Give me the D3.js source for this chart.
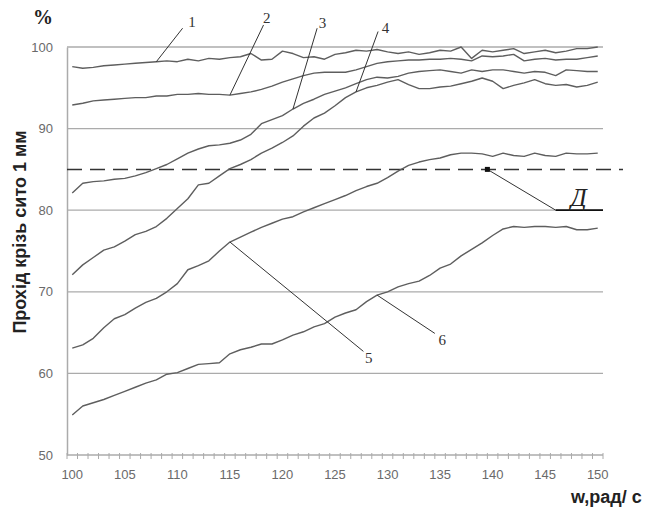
<!DOCTYPE html>
<html>
<head>
<meta charset="utf-8">
<script src="https://cdn.jsdelivr.net/npm/d3@7/dist/d3.min.js"></script>
<style>
  html, body { margin: 0; padding: 0; background: #fff; }
  svg { display: block; }
</style>
</head>
<body>
<svg id="chart" width="649" height="510"></svg>
<script>
// ---- data ----
const categories = d3.range(100, 151); // w, рад/с : 100 ... 150
const xTickLabels = [100, 105, 110, 115, 120, 125, 130, 135, 140, 145, 150];
const yTickLabels = [50, 60, 70, 80, 90, 100];
const thresholdValue = 85;

const series1 = [97.6,97.4,97.5,97.7,97.8,97.9,98.0,98.1,98.2,98.3,98.2,98.5,98.3,98.6,98.5,98.7,98.8,99.2,98.4,98.5,
  99.5,99.2,98.7,98.8,98.5,99.1,99.3,99.6,99.5,99.7,99.4,99.2,99.4,99.1,99.3,99.6,99.5,100.0,98.6,99.6,
  99.4,99.6,99.8,99.2,99.4,99.6,99.3,99.5,99.8,99.8,100.0];
const series2 = [92.9,93.1,93.4,93.5,93.6,93.7,93.8,93.8,94.0,94.0,94.2,94.2,94.3,94.2,94.2,94.1,94.3,94.5,94.8,95.2,
  95.7,96.1,96.5,96.8,96.9,96.9,96.9,97.2,97.6,98.0,98.2,98.3,98.4,98.4,98.5,98.5,98.6,98.5,98.3,98.9,
  98.8,98.9,99.1,98.3,98.5,98.6,98.4,98.5,98.5,98.7,98.9];
const series3 = [82.1,83.3,83.5,83.6,83.8,83.9,84.2,84.6,85.1,85.6,86.3,87.0,87.5,87.9,88.0,88.2,88.6,89.3,90.6,91.1,
  91.6,92.4,93.1,93.6,94.2,94.6,95.0,95.5,96.0,96.3,96.2,96.4,96.8,97.0,97.1,97.2,97.0,96.8,97.2,97.0,
  97.2,97.2,97.0,96.8,97.0,96.9,96.5,97.2,97.1,97.0,97.0];
const series4 = [72.1,73.3,74.2,75.1,75.5,76.2,77.0,77.4,78.0,79.0,80.2,81.4,83.1,83.3,84.2,85.1,85.6,86.2,87.0,87.6,
  88.3,89.1,90.3,91.3,91.9,92.8,93.8,94.5,95.0,95.3,95.7,96.0,95.4,94.9,94.9,95.1,95.2,95.5,95.8,96.2,
  95.8,94.9,95.3,95.6,96.0,95.5,95.3,95.4,95.1,95.3,95.7];
const series5 = [63.1,63.5,64.3,65.6,66.7,67.2,68.0,68.7,69.2,70.0,71.0,72.7,73.2,73.8,75.0,76.1,76.7,77.3,77.9,78.4,
  78.9,79.2,79.8,80.3,80.8,81.3,81.8,82.4,82.9,83.3,84.0,84.8,85.5,85.9,86.2,86.4,86.8,87.0,87.0,86.9,
  86.6,87.0,86.7,86.6,87.0,86.7,86.6,87.0,86.9,86.9,87.0];
const series6 = [54.9,56.0,56.4,56.8,57.3,57.8,58.3,58.8,59.2,59.9,60.1,60.6,61.1,61.2,61.3,62.4,62.9,63.2,63.6,63.6,
  64.1,64.7,65.1,65.7,66.1,66.9,67.4,67.8,68.8,69.6,70.0,70.6,71.0,71.3,72.0,72.9,73.4,74.4,75.2,76.0,
  76.9,77.7,78.0,77.9,78.0,78.0,77.9,78.0,77.6,77.6,77.8];
const seriesNames = ["1", "2", "3", "4", "5", "6"];
const allSeries = [series1, series2, series3, series4, series5, series6];

// leader-line annotations (in data units): label position, leader start, point on curve (category)
const curveLabels = [
  { name: "1", tx: 111.4, ty: 103.1, lx: 110.5, ly: 102.3, cat: 108 },
  { name: "2", tx: 118.5, ty: 103.5, lx: 118.2, ly: 102.7, cat: 115 },
  { name: "3", tx: 123.8, ty: 102.9, lx: 123.3, ly: 102.3, cat: 121 },
  { name: "4", tx: 129.8, ty: 102.3, lx: 129.1, ly: 101.9, cat: 127 },
  { name: "5", tx: 128.2, ty: 61.9,  lx: 127.7, ly: 62.7,  cat: 115 },
  { name: "6", tx: 135.2, ty: 64.1,  lx: 134.5, ly: 64.9,  cat: 129 }
];
const markerPoint = { x: 139.5, y: 85 };
const markerBend = { x: 146, y: 80 };
const markerEnd = { x: 150.5, y: 80 };
const markerText = { text: "Д", x: 148.2, y: 81.5 };

// ---- layout ----
const svg = d3.select("#chart");
const x = d3.scaleLinear().domain([99.5, 150.5]).range([67, 603]);
const y = d3.scaleLinear().domain([50, 100]).range([455, 47]);
const gridColor = "#ababab";
const lineColor = "#5e5e5e";

// grid lines
svg.append("g").selectAll("line").data(yTickLabels.filter(v => v > 50)).join("line")
  .attr("x1", x.range()[0]).attr("x2", x.range()[1])
  .attr("y1", d => y(d)).attr("y2", d => y(d))
  .attr("stroke", gridColor).attr("stroke-width", 1.3);

// y axis
const yAxis = svg.append("g").attr("transform", `translate(${x.range()[0]},0)`)
  .call(d3.axisLeft(y).tickValues(yTickLabels).tickSize(0).tickPadding(14));
yAxis.select(".domain").attr("stroke", gridColor).attr("stroke-width", 1.5);
yAxis.selectAll("text").attr("font-family", "Liberation Sans, Arial, sans-serif")
  .attr("font-size", 13).attr("fill", "#6a6a6a");

// x axis: minor ticks at category boundaries, labels at categories
const xAxisG = svg.append("g").attr("transform", `translate(0,${y(50)})`);
xAxisG.append("line").attr("x1", x.range()[0]).attr("x2", x.range()[1])
  .attr("stroke", gridColor).attr("stroke-width", 1.5);
xAxisG.selectAll("line.tick").data(d3.range(0, categories.length + 1).map(i => 99.5 + i)).join("line")
  .attr("class", "tick")
  .attr("x1", d => x(d)).attr("x2", d => x(d))
  .attr("y1", -2).attr("y2", 4)
  .attr("stroke", "#aaa").attr("stroke-width", 1);
xAxisG.selectAll("text").data(xTickLabels).join("text")
  .attr("x", d => x(d)).attr("y", 24)
  .attr("text-anchor", "middle")
  .attr("font-family", "Liberation Sans, Arial, sans-serif")
  .attr("font-size", 13).attr("fill", "#6a6a6a")
  .text(d => d);

// threshold dashed line
svg.append("line")
  .attr("x1", x.range()[0]).attr("x2", 623)
  .attr("y1", y(thresholdValue)).attr("y2", y(thresholdValue))
  .attr("stroke", "#333").attr("stroke-width", 1.5)
  .attr("stroke-dasharray", "15,8");

// curves
const line = d3.line().x((d, i) => x(categories[i])).y(d => y(d));
svg.append("g").selectAll("path").data(allSeries).join("path")
  .attr("d", d => line(d))
  .attr("fill", "none").attr("stroke", lineColor).attr("stroke-width", 1.4)
  .attr("stroke-linejoin", "round");

// curve labels with leaders
const lab = svg.append("g");
curveLabels.forEach((c) => {
  const s = allSeries[seriesNames.indexOf(c.name)];
  const v = s[categories.indexOf(c.cat)];
  lab.append("line")
    .attr("x1", x(c.lx)).attr("y1", y(c.ly))
    .attr("x2", x(c.cat)).attr("y2", y(v))
    .attr("stroke", "#333").attr("stroke-width", 1);
  lab.append("text")
    .attr("x", x(c.tx)).attr("y", y(c.ty))
    .attr("text-anchor", "middle").attr("dominant-baseline", "central")
    .attr("font-family", "Liberation Serif, Times New Roman, serif")
    .attr("font-size", 15).attr("fill", "#333")
    .text(c.name);
});

// marker "Д"
svg.append("polyline")
  .attr("points", [markerPoint, markerBend].map(p => [x(p.x), y(p.y)].join(",")).join(" "))
  .attr("fill", "none").attr("stroke", "#333").attr("stroke-width", 1);
svg.append("line")
  .attr("x1", x(markerBend.x)).attr("y1", y(markerBend.y))
  .attr("x2", x(markerEnd.x)).attr("y2", y(markerEnd.y))
  .attr("stroke", "#111").attr("stroke-width", 1.8);
svg.append("rect")
  .attr("x", x(markerPoint.x) - 2.5).attr("y", y(markerPoint.y) - 2.5)
  .attr("width", 5).attr("height", 5).attr("fill", "#111");
svg.append("text")
  .attr("x", x(markerText.x)).attr("y", y(markerText.y))
  .attr("text-anchor", "middle").attr("dominant-baseline", "central")
  .attr("font-family", "Liberation Serif, Times New Roman, serif")
  .attr("font-style", "italic")
  .attr("font-size", 25).attr("fill", "#222")
  .text(markerText.text);

// titles
svg.append("text")
  .attr("x", 43).attr("y", 24)
  .attr("text-anchor", "middle")
  .attr("font-family", "Liberation Serif, Times New Roman, serif")
  .attr("font-weight", "bold").attr("font-size", 20).attr("fill", "#222")
  .text("%");
svg.append("text")
  .attr("transform", "translate(26,232) rotate(-90)")
  .attr("text-anchor", "middle")
  .attr("font-family", "Liberation Sans, Arial, sans-serif")
  .attr("font-weight", "bold").attr("font-size", 18).attr("fill", "#222")
  .text("Прохід крізь сито 1 мм");
svg.append("text")
  .attr("x", 571).attr("y", 503)
  .attr("font-family", "Liberation Sans, Arial, sans-serif")
  .attr("font-weight", "bold").attr("font-size", 18).attr("fill", "#222")
  .text("w,рад/ с");
</script>
</body>
</html>
